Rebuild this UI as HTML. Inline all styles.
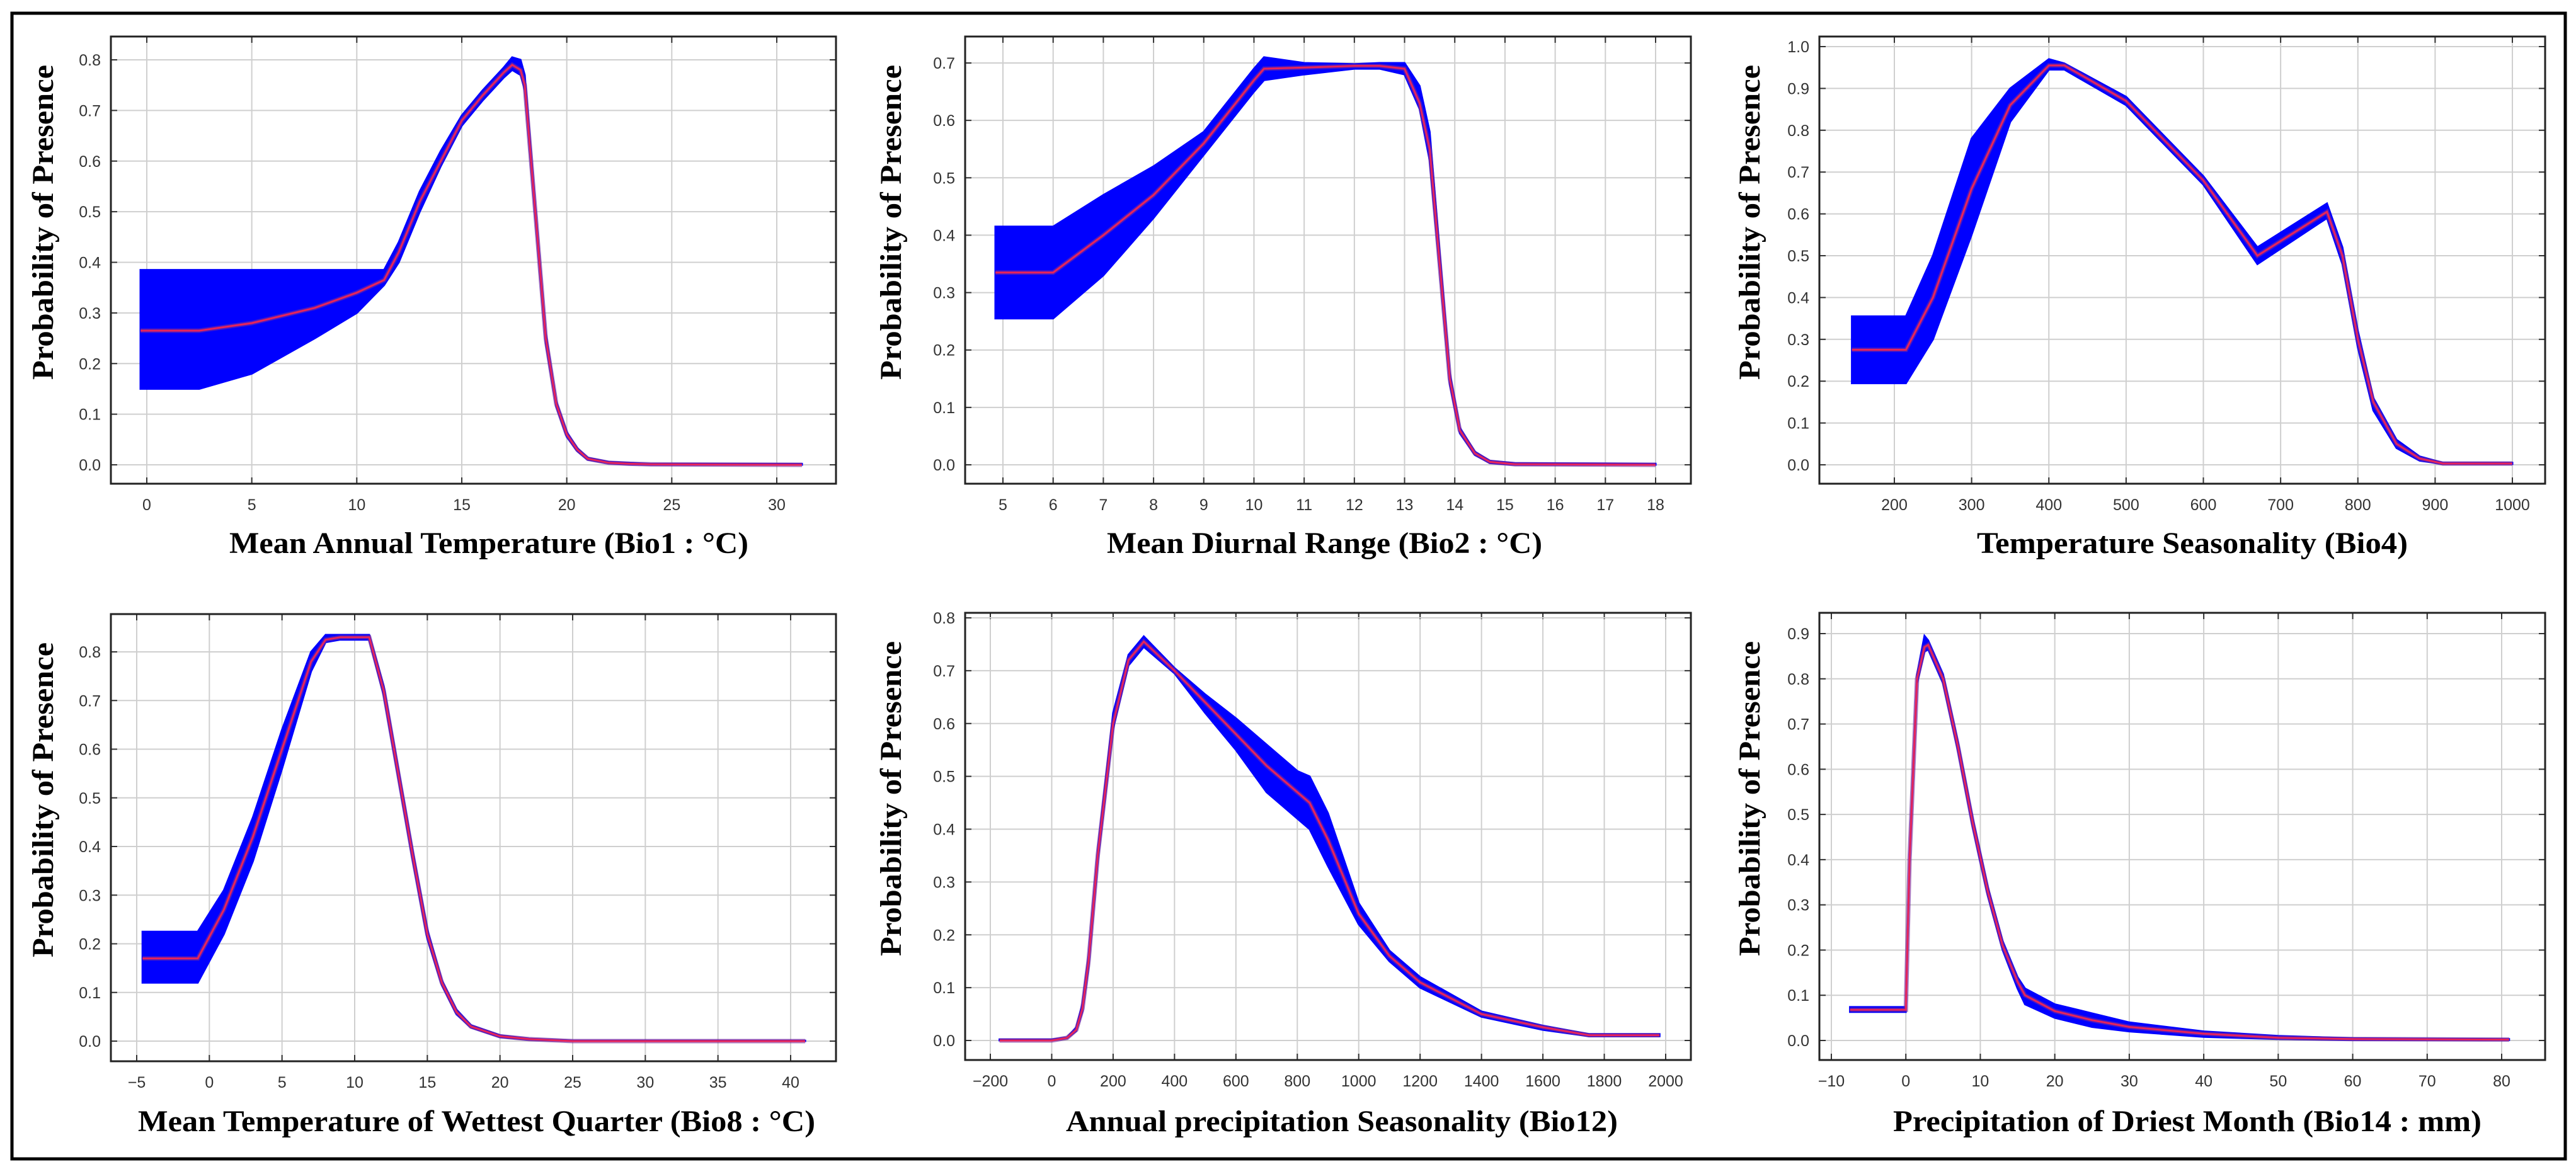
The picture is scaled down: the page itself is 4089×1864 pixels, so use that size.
<!DOCTYPE html>
<html><head><meta charset="utf-8"><style>
html,body{margin:0;padding:0;background:#fff;}
svg{display:block;}
.tk{font-family:"Liberation Sans",sans-serif;font-size:25px;fill:#333;}
.tt{font-family:"Liberation Serif",serif;font-weight:bold;font-size:48px;fill:#000;}
</style></head><body>
<svg id="fig" width="4089" height="1864" viewBox="0 0 4089 1864" xmlns="http://www.w3.org/2000/svg">
<rect x="19" y="21" width="4053" height="1819" fill="#fff" stroke="#000" stroke-width="5"/>
</svg>
<script>
// Panel 1: Bio1
const p1X=[-0.3,2.5,5,8,10,11.3,12,13,14,15,16,17,17.4,17.8,18,18.5,19,19.5,20,20.5,21,22,23,24,31.2];
const p1Mean=[0.265,0.265,0.28,0.31,0.34,0.365,0.42,0.52,0.6,0.68,0.73,0.775,0.79,0.78,0.75,0.5,0.25,0.12,0.06,0.03,0.012,0.004,0.002,0.001,0.0];
const p1Lo=[0.15,0.15,0.18,0.25,0.3,0.355,0.4,0.5,0.59,0.67,0.72,0.765,0.78,0.77,0.74,0.49,0.24,0.115,0.055,0.027,0.01,0.003,0.001,0,0];
const p1Hi=[0.385,0.385,0.385,0.385,0.385,0.385,0.44,0.54,0.62,0.69,0.74,0.785,0.805,0.8,0.77,0.51,0.26,0.125,0.065,0.033,0.014,0.006,0.004,0.002,0.002];
const p1XTicks=[0,5,10,15,20,25,30];
const p1YTicks=[0,0.1,0.2,0.3,0.4,0.5,0.6,0.7,0.8];
// Panel 2: Bio2
const p2X=[4.85,6,7,8,9,10,10.2,11,12,12.5,13,13.3,13.5,13.7,13.9,14.1,14.4,14.7,15.2,18];
const p2Mean=[0.335,0.335,0.4,0.47,0.56,0.67,0.69,0.692,0.695,0.695,0.69,0.63,0.55,0.35,0.15,0.06,0.02,0.005,0.001,0];
const p2Lo=[0.255,0.255,0.33,0.43,0.54,0.65,0.67,0.68,0.69,0.69,0.68,0.62,0.53,0.34,0.14,0.055,0.017,0.003,0,0];
const p2Hi=[0.415,0.415,0.47,0.52,0.58,0.69,0.71,0.7,0.698,0.7,0.7,0.66,0.58,0.37,0.16,0.065,0.023,0.007,0.003,0.002];
const p2XTicks=[5,6,7,8,9,10,11,12,13,14,15,16,17,18];
const p2YTicks=[0,0.1,0.2,0.3,0.4,0.5,0.6,0.7];
// Panel 3: Bio4
const p3X=[145,215,250,300,350,400,420,500,600,670,760,780,800,820,850,880,910,1000];
const p3Mean=[0.275,0.275,0.4,0.66,0.86,0.955,0.955,0.87,0.68,0.5,0.605,0.5,0.3,0.15,0.05,0.015,0.003,0.003];
const p3Lo=[0.195,0.195,0.3,0.55,0.82,0.945,0.945,0.86,0.67,0.48,0.59,0.48,0.28,0.13,0.04,0.01,0.002,0.002];
const p3Hi=[0.355,0.355,0.5,0.78,0.9,0.97,0.96,0.88,0.69,0.52,0.625,0.52,0.32,0.16,0.06,0.02,0.005,0.005];
const p3XTicks=[200,300,400,500,600,700,800,900,1000];
const p3YTicks=[0,0.1,0.2,0.3,0.4,0.5,0.6,0.7,0.8,0.9,1.0];
// Panel 4: Bio8
const p4X=[-4.6,-0.8,1,3,5,7,8,9,10,11,12,13,14,15,16,17,18,20,22,25,41];
const p4Mean=[0.17,0.17,0.27,0.42,0.6,0.78,0.825,0.83,0.83,0.83,0.72,0.55,0.38,0.22,0.12,0.06,0.03,0.01,0.004,0,0];
const p4Lo=[0.12,0.12,0.22,0.37,0.56,0.76,0.82,0.825,0.825,0.825,0.71,0.54,0.37,0.21,0.115,0.055,0.028,0.008,0.003,0,0];
const p4Hi=[0.225,0.225,0.31,0.46,0.64,0.8,0.835,0.835,0.835,0.835,0.73,0.56,0.39,0.23,0.125,0.065,0.033,0.012,0.005,0.001,0.001];
const p4XTicks=[-5,0,5,10,15,20,25,30,35,40];
const p4YTicks=[0,0.1,0.2,0.3,0.4,0.5,0.6,0.7,0.8];
// Panel 5: Bio12
const p5X=[-170,0,50,80,100,120,150,200,250,300,400,500,600,700,800,840,900,1000,1100,1200,1400,1600,1750,1980];
const p5Mean=[0,0,0.005,0.02,0.06,0.15,0.35,0.6,0.72,0.755,0.7,0.64,0.58,0.52,0.47,0.45,0.38,0.24,0.16,0.11,0.05,0.025,0.01,0.01];
const p5Lo=[0,0,0.004,0.018,0.055,0.14,0.34,0.59,0.71,0.745,0.695,0.62,0.55,0.47,0.42,0.4,0.33,0.22,0.15,0.1,0.045,0.02,0.008,0.008];
const p5Hi=[0.002,0.002,0.006,0.025,0.07,0.16,0.36,0.62,0.73,0.765,0.705,0.655,0.61,0.56,0.51,0.5,0.43,0.26,0.17,0.12,0.055,0.028,0.012,0.012];
const p5XTicks=[-200,0,200,400,600,800,1000,1200,1400,1600,1800,2000];
const p5YTicks=[0,0.1,0.2,0.3,0.4,0.5,0.6,0.7,0.8];
// Panel 6: Bio14
const p6X=[-7.5,0,0.5,1.5,2.5,3,5,7,9,11,13,15,16,20,25,30,40,50,60,81];
const p6Mean=[0.068,0.068,0.4,0.8,0.87,0.875,0.8,0.65,0.48,0.33,0.21,0.13,0.1,0.065,0.045,0.03,0.015,0.006,0.003,0.002];
const p6Lo=[0.063,0.063,0.39,0.79,0.86,0.865,0.79,0.64,0.47,0.32,0.2,0.115,0.08,0.05,0.03,0.02,0.008,0.003,0.001,0.001];
const p6Hi=[0.074,0.074,0.41,0.81,0.895,0.885,0.81,0.66,0.49,0.34,0.22,0.14,0.115,0.08,0.06,0.04,0.02,0.01,0.005,0.003];
const p6XTicks=[-10,0,10,20,30,40,50,60,70,80];
const p6YTicks=[0,0.1,0.2,0.3,0.4,0.5,0.6,0.7,0.8,0.9];

const titles=["Mean Annual Temperature (Bio1 : °C)","Mean Diurnal Range (Bio2 : °C)","Temperature Seasonality (Bio4)","Mean Temperature of Wettest Quarter (Bio8 : °C)","Annual precipitation Seasonality (Bio12)","Precipitation of Driest Month (Bio14 : mm)"];

const NS="http://www.w3.org/2000/svg";
const svg=document.getElementById('fig');
function mk(tag,attrs,parent){const e=document.createElementNS(NS,tag);for(const k in attrs)e.setAttribute(k,attrs[k]);(parent||svg).appendChild(e);return e;}

const panels=[
 {X:p1X,M:p1Mean,L:p1Lo,H:p1Hi,xt:p1XTicks,yt:p1YTicks,dec:1,box:[176,58,1327,768],xr:[0,233,30,1233],yr:[0,738,0.8,95],yl:68,tx:[364,1188],ty:878},
 {X:p2X,M:p2Mean,L:p2Lo,H:p2Hi,xt:p2XTicks,yt:p2YTicks,dec:1,box:[1532,58,2684,768],xr:[5,1592,18,2628],yr:[0,738,0.7,100],yl:1414,tx:[1757,2448],ty:878},
 {X:p3X,M:p3Mean,L:p3Lo,H:p3Hi,xt:p3XTicks,yt:p3YTicks,dec:1,box:[2888,58,4040,768],xr:[200,3007,1000,3988],yr:[0,738,1.0,74],yl:2777,tx:[3138,3822],ty:878},
 {X:p4X,M:p4Mean,L:p4Lo,H:p4Hi,xt:p4XTicks,yt:p4YTicks,dec:1,box:[176,975,1327,1685],xr:[-5,217,40,1255],yr:[0,1653,0.8,1035],yl:68,tx:[219,1294],ty:1796},
 {X:p5X,M:p5Mean,L:p5Lo,H:p5Hi,xt:p5XTicks,yt:p5YTicks,dec:1,box:[1532,973,2684,1683],xr:[-200,1572,2000,2644],yr:[0,1652,0.8,981],yl:1414,tx:[1692,2568],ty:1796},
 {X:p6X,M:p6Mean,L:p6Lo,H:p6Hi,xt:p6XTicks,yt:p6YTicks,dec:1,box:[2888,973,4040,1683],xr:[-10,2907,80,3971],yr:[0,1652,0.9,1006],yl:2777,tx:[3005,3939],ty:1796}
];

panels.forEach((p,i)=>{
  const [x0,y0,x1,y1]=p.box;
  const sx=v=>p.xr[1]+(v-p.xr[0])*(p.xr[3]-p.xr[1])/(p.xr[2]-p.xr[0]);
  const sy=v=>p.yr[1]+(v-p.yr[0])*(p.yr[3]-p.yr[1])/(p.yr[2]-p.yr[0]);
  const g=mk('g',{});
  
  
  const bg=mk('rect',{x:x0,y:y0,width:x1-x0,height:y1-y0,fill:'#fff'},g);
  
  
  p.xt.forEach(t=>{
    const x=sx(t);
    const gl=mk('line',{x1:x,x2:x,y1:y0,y2:y1,stroke:'#cfcfcf','stroke-width':2},g);
    
    
    mk('line',{x1:x,x2:x,y1:y1,y2:y1-10,stroke:'#333','stroke-width':2},g);
    mk('line',{x1:x,x2:x,y1:y0,y2:y0+10,stroke:'#333','stroke-width':2},g);
    const lb=mk('text',{x:x,y:y1+42,'text-anchor':'middle',class:'tk'},g);
    lb.textContent=(t<0?'\u2212'+(-t):String(t));
    
    
  });
  p.yt.forEach(t=>{
    const y=sy(t);
    const gl=mk('line',{x1:x0,x2:x1,y1:y,y2:y,stroke:'#cfcfcf','stroke-width':2},g);
    
    
    mk('line',{x1:x0,x2:x0+10,y1:y,y2:y,stroke:'#333','stroke-width':2},g);
    mk('line',{x1:x1,x2:x1-10,y1:y,y2:y,stroke:'#333','stroke-width':2},g);
    const lb=mk('text',{x:x0-16,y:y+9,'text-anchor':'end',class:'tk'},g);
    lb.textContent=t.toFixed(p.dec);
    
    
  });
  let d='';
  p.X.forEach((v,k)=>{d+=(k?'L':'M')+sx(v).toFixed(1)+','+sy(p.H[k]).toFixed(1);});
  for(let k=p.X.length-1;k>=0;k--){d+='L'+sx(p.X[k]).toFixed(1)+','+sy(p.L[k]).toFixed(1);}
  const band=mk('path',{d:d+'Z',fill:'#0000ff',stroke:'#0000ff','stroke-width':3},g);
  
  
  let ml='';
  p.X.forEach((v,k)=>{ml+=(k?'L':'M')+sx(v).toFixed(1)+','+sy(p.M[k]).toFixed(1);});
  mk('path',{d:ml,fill:'none',stroke:'#7a2a9a','stroke-width':7,'stroke-opacity':0.6},g);
  const line=mk('path',{d:ml,fill:'none',stroke:'#e8245a','stroke-width':3},g);
  
  
  const fr=mk('rect',{x:x0,y:y0,width:x1-x0,height:y1-y0,fill:'none',stroke:'#222','stroke-width':3},g);
  
  
  const tt=mk('text',{x:p.tx[0],y:p.ty,class:'tt',textLength:p.tx[1]-p.tx[0],lengthAdjust:'spacingAndGlyphs'},g);
  tt.textContent=titles[i];
  
  
  const cy=(y0+y1)/2-60;
  const yt=mk('text',{x:0,y:0,class:'tt','text-anchor':'middle',transform:'translate('+(p.yl+16)+','+cy+') rotate(-90)',textLength:500,lengthAdjust:'spacingAndGlyphs'},g);
  yt.textContent='Probability of Presence';
  
  
});
</script>
</body></html>
